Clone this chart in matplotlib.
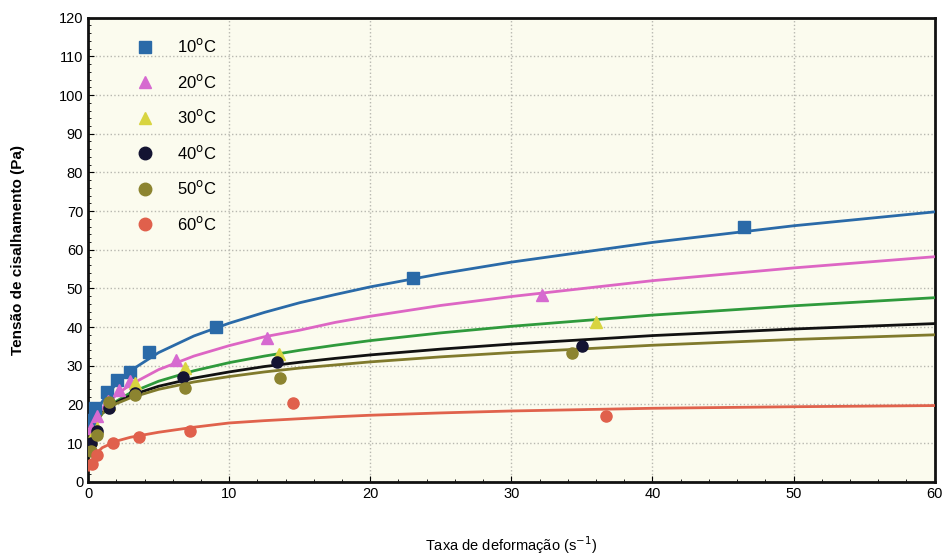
import matplotlib
matplotlib.use("Agg")
import matplotlib.pyplot as plt
from matplotlib.lines import Line2D
from matplotlib.ticker import MultipleLocator

plt.rcParams['font.family'] = ['Liberation Sans', 'DejaVu Sans']

labels = ['10$^{\\mathrm{o}}$C', '20$^{\\mathrm{o}}$C', '30$^{\\mathrm{o}}$C',
          '40$^{\\mathrm{o}}$C', '50$^{\\mathrm{o}}$C', '60$^{\\mathrm{o}}$C']

# measured points
x10 = [0.15, 0.5, 1.35, 2.05, 3.0, 4.3, 9.1, 23.0, 46.5]
y10 = [16, 19, 23.3, 26.4, 28.5, 33.6, 40, 52.7, 66]
x20 = [0.2, 0.6, 1.4, 2.2, 3.0, 6.2, 12.7, 32.2]
y20 = [14, 17, 21, 23.8, 26, 31.5, 37.2, 48.3]
x30 = [0.2, 0.6, 1.5, 3.3, 6.9, 13.5, 36.0]
y30 = [11, 14, 20, 25.6, 29.4, 33, 41.3]
x40 = [0.2, 0.6, 1.5, 3.3, 6.7, 13.4, 35.0]
y40 = [10, 13, 19, 23, 27.2, 31, 35]
x50 = [0.2, 0.6, 1.5, 3.3, 6.9, 13.6, 34.3]
y50 = [8, 12, 20.5, 22.5, 24.3, 26.9, 33.3]
x60 = [0.3, 0.6, 1.8, 3.6, 7.2, 14.5, 36.7]
y60 = [4.5, 7, 10, 11.5, 13, 20.4, 17]

# fitted curves
xf = [0.05, 0.2, 0.5, 1, 2, 3, 5, 7.5, 10, 12.5, 15, 17.5, 20, 25, 30, 40, 50, 60]
f10 = [8.5, 12.8, 16.9, 20.7, 25.4, 28.7, 33.4, 37.7, 41.0, 43.8, 46.3, 48.4, 50.4, 53.8, 56.8, 61.9, 66.2, 69.8]
f20 = [8.0, 11.8, 15.2, 18.5, 22.5, 25.1, 29.0, 32.5, 35.2, 37.5, 39.2, 41.2, 42.8, 45.6, 47.9, 52.0, 55.3, 58.2]
f30 = [8.5, 11.9, 14.9, 17.6, 20.8, 23.0, 26.0, 28.7, 30.8, 32.5, 34.0, 35.3, 36.5, 38.5, 40.2, 43.1, 45.5, 47.6]
f40 = [9.7, 12.8, 15.5, 17.8, 20.5, 22.3, 24.7, 26.8, 28.4, 29.8, 30.9, 31.9, 32.8, 34.3, 35.6, 37.8, 39.5, 40.9]
f50 = [10.1, 13.1, 15.5, 17.7, 20.2, 21.7, 23.9, 25.8, 27.2, 28.4, 29.4, 30.2, 31.0, 32.3, 33.4, 35.3, 36.8, 38.0]
f60 = [3.0, 5.0, 7.0, 8.8, 10.5, 11.5, 12.8, 14.1, 15.2, 15.8, 16.3, 16.8, 17.2, 17.8, 18.3, 19.0, 19.4, 19.7]

xs = [x10, x20, x30, x40, x50, x60]
ys = [y10, y20, y30, y40, y50, y60]
fs = [f10, f20, f30, f40, f50, f60]
line_colors = ['#2a6aa8', '#dd66c4', '#2f9a3c', '#111111', '#807a2c', '#e0624c']
mk_colors = ['#2a6aa8', '#d66ad0', '#d8d440', '#141432', '#8c8430', '#e0604c']
markers = ['s', '^', '^', 'o', 'o', 'o']

fig = plt.figure(figsize=(9.47, 5.55), dpi=100)
ax = fig.add_axes([0.093, 0.132, 0.894, 0.836])
ax.set_facecolor('#fbfbee')

for i in range(6):
    ax.plot(xf, fs[i], color=line_colors[i], lw=2, zorder=3)
for i in range(6):
    ax.plot(xs[i], ys[i], linestyle='none', marker=markers[i], ms=8,
            color=mk_colors[i], mec=mk_colors[i], zorder=4)

ax.set_xlim(0, 60)
ax.set_ylim(0, 120)
ax.xaxis.set_major_locator(MultipleLocator(10))
ax.yaxis.set_major_locator(MultipleLocator(10))
ax.xaxis.set_minor_locator(MultipleLocator(2))
ax.yaxis.set_minor_locator(MultipleLocator(2))
ax.tick_params(which='both', direction='in', labelsize=10.5, top=False, right=False)
ax.tick_params(which='major', length=4)
ax.tick_params(which='minor', length=2)
ax.grid(True, which='major', linestyle=':', color='#b8b8b0', lw=1)
for s in ax.spines.values():
    s.set_linewidth(2)
    s.set_color('#111111')

ax.set_xlabel('Taxa de deformação (s$^{-1}$)', fontsize=10.5, labelpad=24)
ax.set_ylabel('Tensão de cisalhamento (Pa)', fontsize=11, fontweight='bold', labelpad=24)

handles = [Line2D([], [], linestyle='none', marker=markers[i], ms=9,
                  color=mk_colors[i]) for i in range(6)]
ax.legend(handles, labels, loc='upper left', bbox_to_anchor=(0.03, 0.99),
          frameon=False, fontsize=12, labelspacing=1.05, handletextpad=0.9)

fig.savefig('out.png', dpi=100)
